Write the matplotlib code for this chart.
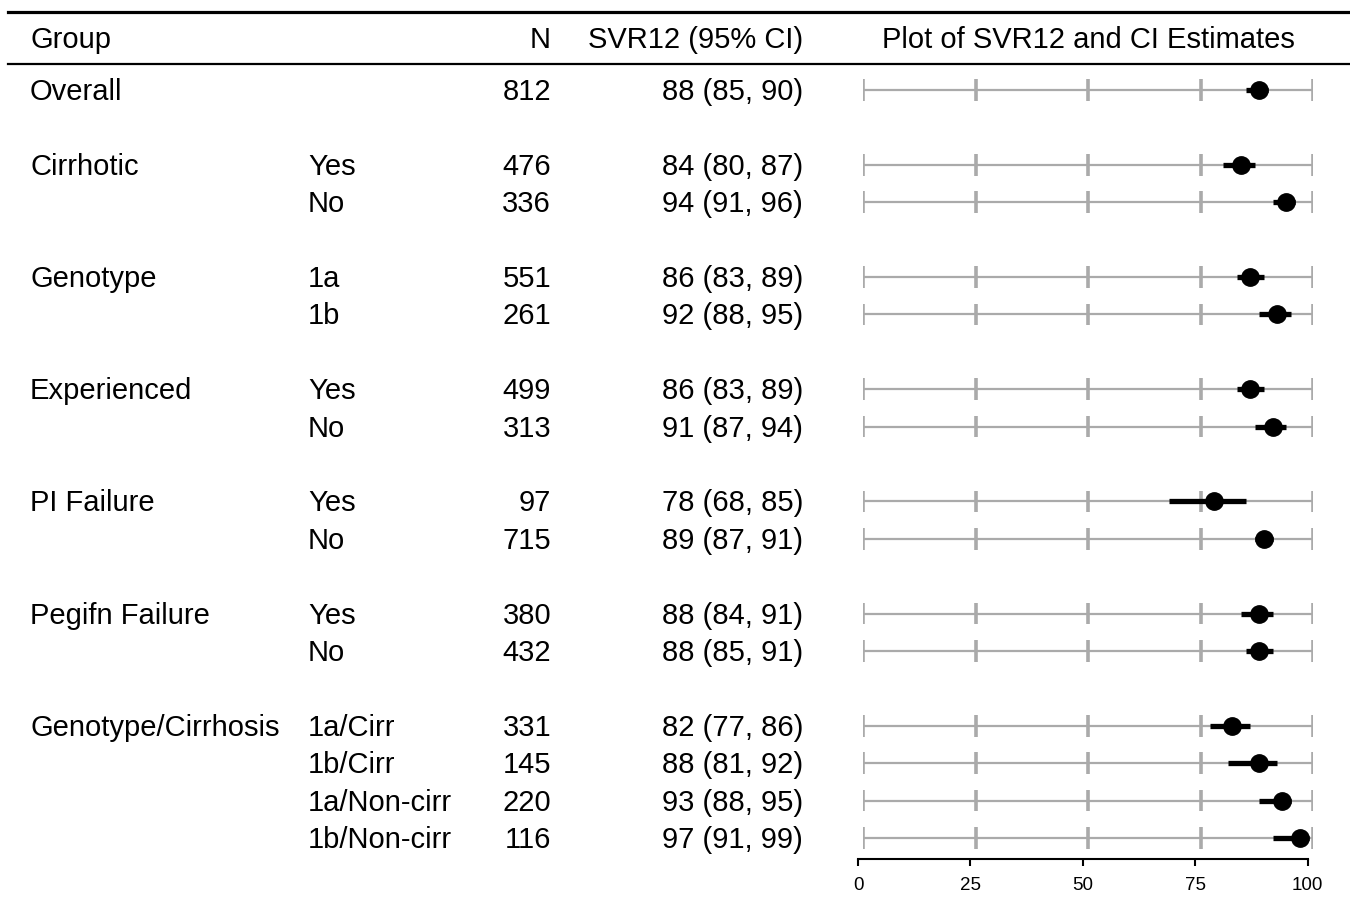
import matplotlib.pyplot as plt
import matplotlib.transforms as mtransforms
from matplotlib.lines import Line2D

plt.rcParams['font.family'] = ['Liberation Sans', 'DejaVu Sans']

# table contents
group_labels = ["Overall", "Cirrhotic", "", "Genotype", "", "Experienced", "",
                "PI Failure", "", "Pegifn Failure", "", "Genotype/Cirrhosis", "", "", ""]
subgroups = ["", "Yes", "No", "1a", "1b", "Yes", "No", "Yes", "No", "Yes", "No",
             "1a/Cirr", "1b/Cirr", "1a/Non-cirr", "1b/Non-cirr"]
n_pts = [812, 476, 336, 551, 261, 499, 313, 97, 715, 380, 432, 331, 145, 220, 116]
svr = [88, 84, 94, 86, 92, 86, 91, 78, 89, 88, 88, 82, 88, 93, 97]
ci_lo = [85, 80, 91, 83, 88, 83, 87, 68, 87, 84, 85, 77, 81, 88, 91]
ci_hi = [90, 87, 96, 89, 95, 89, 94, 85, 91, 91, 91, 86, 92, 95, 99]
grid_ticks = [0, 25, 50, 75, 100]

# row positions: one blank row before each new group
rows = []
r = -1
for i, g in enumerate(group_labels):
    r += 2 if (g and i > 0) else 1
    rows.append(r)

W, H = 1350, 897
fig = plt.figure(figsize=(W / 100, H / 100), dpi=100)
FS = 21

ax = fig.add_axes([863 / W, (H - 859) / H, 450 / W, (859 - 65) / H])
ax.set_xlim(0, 100)
ax.set_ylim(20.56, -0.668)
ax.axis('off')

# grey reference line with ticks for every row
ax.hlines(rows, 0, 100, color='#aaaaaa', lw=1.6, zorder=1)
for y in rows:
    ax.vlines(grid_ticks, y - 0.29, y + 0.29, color='#aaaaaa', lw=2.6, zorder=1)

# CI bars and point estimates
ax.hlines(rows, ci_lo, ci_hi, color='black', lw=3.8, zorder=2)
ax.plot(svr, rows, 'o', ms=12.5, color='black', zorder=3)

# text columns, nudged down a touch
shift = mtransforms.ScaledTranslation(0, -2 / 100, fig.dpi_scale_trans)
trans = mtransforms.blended_transform_factory(fig.transFigure, ax.transData) + shift
for i, y in enumerate(rows):
    ax.text(30 / W, y, group_labels[i], transform=trans, ha='left', va='center', fontsize=FS)
    ax.text(308 / W, y, subgroups[i], transform=trans, ha='left', va='center', fontsize=FS)
    ax.text(551 / W, y, str(n_pts[i]), transform=trans, ha='right', va='center', fontsize=FS)
    ax.text(803 / W, y, f"{svr[i]} ({ci_lo[i]}, {ci_hi[i]})", transform=trans,
            ha='right', va='center', fontsize=FS)

# header
hy = 1 - 40 / H
fig.text(30 / W, hy, "Group", ha='left', va='center', fontsize=FS)
fig.text(551 / W, hy, "N", ha='right', va='center', fontsize=FS)
fig.text(803 / W, hy, "SVR12 (95% CI)", ha='right', va='center', fontsize=FS)
fig.text(1088 / W, hy, "Plot of SVR12 and CI Estimates", ha='center', va='center', fontsize=FS)

fig.add_artist(Line2D([8 / W, 1], [1 - 12 / H] * 2, color='black', lw=2.3))
fig.add_artist(Line2D([8 / W, 1], [1 - 64.5 / H] * 2, color='black', lw=1.6))

# bottom scale
ax2 = fig.add_axes([858 / W, (H - 859) / H, 449.5 / W, 0.0001])
ax2.set_xlim(0, 100)
ax2.set_xticks(grid_ticks)
ax2.set_yticks([])
for s in ['top', 'left', 'right']:
    ax2.spines[s].set_visible(False)
ax2.spines['bottom'].set_linewidth(1.5)
ax2.patch.set_visible(False)
ax2.tick_params(axis='x', length=5, width=1.5, labelsize=13.5, pad=8)

fig.savefig('out.png', dpi=100)
